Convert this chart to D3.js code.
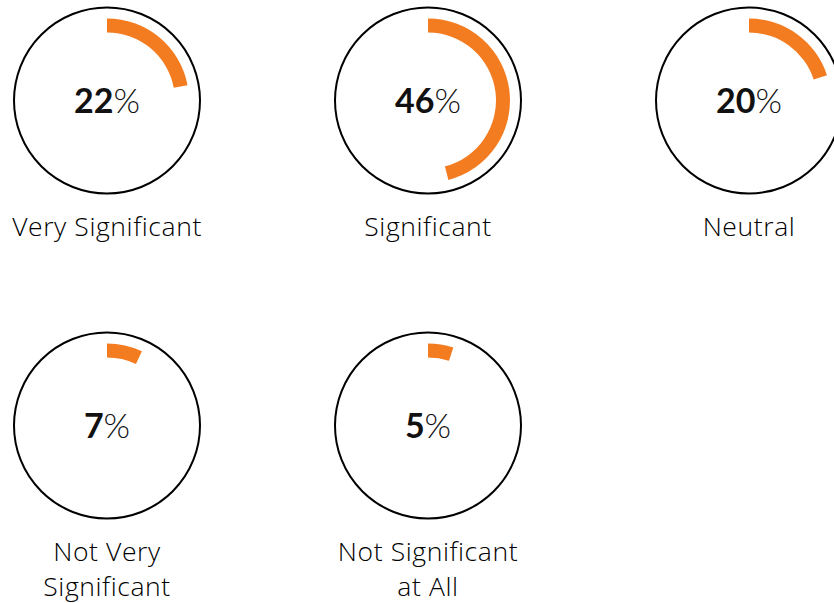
<!DOCTYPE html>
<html>
<head>
<meta charset="utf-8">
<script src="https://cdn.jsdelivr.net/npm/d3@7"></script>
<style>
  body { margin: 0; background: #fff; }
  svg { display: block; }
  text { font-family: Lato, "Open Sans", sans-serif; fill: #111; }
  .label { font-family: "Open Sans", Lato, sans-serif; font-variant-ligatures: none; fill: #000; }
</style>
</head>
<body>
<script>
const categories = ["Very Significant", "Significant", "Neutral", "Not Very\nSignificant", "Not Significant\nat All"];
const values = [22, 46, 20, 7, 5];

const width = 834;
const height = 603;
const outerR = 93;

const svg = d3.select("body")
    .append("svg")
    .attr("width", width)
    .attr("height", height);

// grid positions
const xScale = d3.scaleLinear().domain([0, 2]).range([107, 749]);
const yScale = d3.scaleLinear().domain([0, 1]).range([100.5, 425.5]);
// percent -> angle
const angle = d3.scaleLinear().domain([0, 100]).range([0, 2 * Math.PI]);

const arc = d3.arc()
    .innerRadius(68)
    .outerRadius(82)
    .startAngle(0)
    .endAngle(function (d) {
        return angle(d);
    });

const g = svg.selectAll(".gauge")
    .data(values)
    .enter().append("g")
    .attr("class", "gauge")
    .attr("transform", function (d, i) {
        return "translate(" + xScale(i % 3) + "," + yScale(Math.floor(i / 3)) + ")";
    });

g.append("circle")
    .attr("r", outerR)
    .attr("fill", "none")
    .attr("stroke", "#000")
    .attr("stroke-width", 2);

g.append("path")
    .attr("d", function (d) {
        return arc(d);
    })
    .attr("fill", "#f47c20");

const num = g.append("text")
    .attr("text-anchor", "middle")
    .attr("y", 12)
    .style("font-size", "34px");
num.append("tspan")
    .style("font-weight", 700)
    .text(function (d) {
        return d;
    });
num.append("tspan")
    .style("font-weight", 300)
    .text("%");

g.each(function (d, i) {
    const lines = categories[i].split("\n");
    const t = d3.select(this).append("text")
        .attr("class", "label")
        .attr("text-anchor", "middle")
        .attr("y", 135)
        .style("font-size", "26.5px")
        .style("letter-spacing", "0.6px")
        .style("font-weight", 300);
    lines.forEach(function (line, k) {
        t.append("tspan")
            .attr("x", 0)
            .attr("dy", k === 0 ? 0 : 35)
            .text(line);
    });
});
</script>
</body>
</html>
